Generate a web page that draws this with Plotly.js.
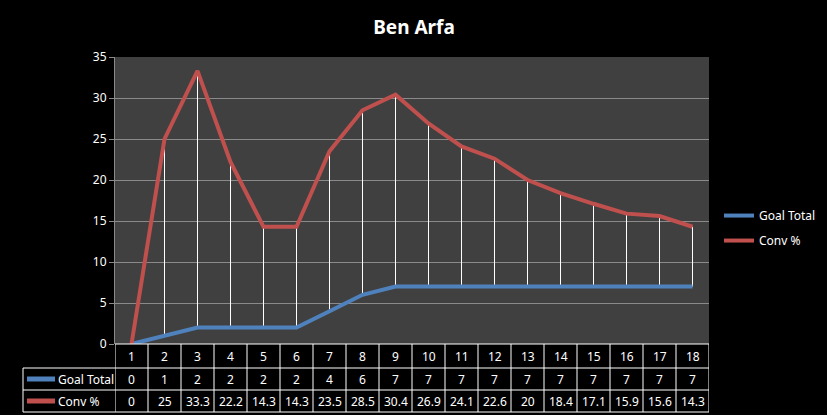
<!DOCTYPE html>
<html>
<head>
<meta charset="utf-8">
<script src="https://cdn.plot.ly/plotly-3.0.1.min.js"></script>
<style>html,body{margin:0;padding:0;background:#000;}#chart{width:827px;height:415px;}</style>
</head>
<body>
<div id="chart"></div>
<script>
const categories = [1,2,3,4,5,6,7,8,9,10,11,12,13,14,15,16,17,18];
const goalTotal = [0,1,2,2,2,2,4,6,7,7,7,7,7,7,7,7,7,7];
const convPct = [0,25,33.3,22.2,14.3,14.3,23.5,28.5,30.4,26.9,24.1,22.6,20,18.4,17.1,15.9,15.6,14.3];
const seriesNames = ['Goal Total', 'Conv %'];
const seriesColors = ['#4F81BD', '#C0504D'];

const W = 827, H = 415;
const M = {l:115, r:118, t:57, b:71, autoexpand:false};
const plotW = W - M.l - M.r, plotH = H - M.t - M.b;
const py = px => -px / plotH;       // pixels below the axis -> paper y
const pxX = px => (px - M.l) / plotW; // absolute px -> paper x

// drop lines
const dx = [], dy = [];
categories.forEach((c,i) => { dx.push(c, c, null); dy.push(goalTotal[i], convPct[i], null); });

const traces = [
  {x: dx, y: dy, mode:'lines', line:{color:'#ffffff', width:1}, showlegend:false, hoverinfo:'skip'},
  {x: categories, y: goalTotal, name: seriesNames[0], legendgroup:'a', mode:'lines', line:{color:seriesColors[0], width:4}},
  {x: categories, y: convPct, name: seriesNames[1], legendgroup:'b', mode:'lines', line:{color:seriesColors[1], width:4}}
];

// data table
const rowTops = [0, 24, 46, 68]; // pixel offsets below the x axis
const shapes = [];
const annotations = [];
const lineStyle = {color:'#ffffff', width:1};
shapes.push({type:'line', xref:'paper', yref:'paper', x0:0, x1:1, y0:py(rowTops[0]), y1:py(rowTops[0]), line:lineStyle});
for (let r = 1; r < rowTops.length; r++) {
  shapes.push({type:'line', xref:'paper', yref:'paper', x0:pxX(23), x1:1, y0:py(rowTops[r]), y1:py(rowTops[r]), line:lineStyle});
}
for (let k = 0; k <= categories.length; k++) {
  shapes.push({type:'line', xref:'x', yref:'paper', x0:k+0.5, x1:k+0.5, y0:py(0), y1:py(rowTops[3]), line:lineStyle});
}
shapes.push({type:'line', xref:'paper', yref:'paper', x0:pxX(23), x1:pxX(23), y0:py(rowTops[1]), y1:py(rowTops[3]), line:lineStyle});

const tfont = {family:'Noto Sans, DejaVu Sans, sans-serif', size:12, color:'#ffffff'};
const rows = [categories, goalTotal, convPct];
rows.forEach((vals, r) => {
  const yc = py((rowTops[r] + rowTops[r+1]) / 2);
  vals.forEach((v, i) => {
    annotations.push({xref:'x', yref:'paper', x:categories[i], y:yc, text:String(v), showarrow:false, font:tfont, xanchor:'center', yanchor:'middle'});
  });
});
seriesNames.forEach((n, s) => {
  const yc = py((rowTops[s+1] + rowTops[s+2]) / 2);
  shapes.push({type:'line', xref:'paper', yref:'paper', x0:pxX(27), x1:pxX(55), y0:yc, y1:yc, line:{color:seriesColors[s], width:5}});
  annotations.push({xref:'paper', yref:'paper', x:pxX(56), y:yc, text:n, showarrow:false, font:tfont, xanchor:'left', yanchor:'middle'});
});

const layout = {
  width: W, height: H,
  margin: M,
  paper_bgcolor:'#000000',
  plot_bgcolor:'#404040',
  title:{text:'<b>Ben Arfa</b>', font:{family:'Noto Sans, DejaVu Sans, sans-serif', size:19, color:'#ffffff'}, x:414/W, xanchor:'center', y:1-27/H, yanchor:'middle', yref:'container'},
  xaxis:{range:[0.5, 18.5], showticklabels:false, showgrid:false, zeroline:false, showline:false, ticks:'', fixedrange:true},
  yaxis:{range:[0, 35], dtick:5, showgrid:true, gridcolor:'#8a8a8a', gridwidth:1, zeroline:false,
         showline:true, linecolor:'#8a8a8a', linewidth:1, ticks:'outside', ticklen:5, tickcolor:'#8a8a8a',
         tickfont:{family:'Noto Sans, DejaVu Sans, sans-serif', size:12, color:'#ffffff'}},
  legend:{x:pxX(719), xanchor:'left', y:0.404, yanchor:'middle', bgcolor:'rgba(0,0,0,0)',
          font:{family:'Noto Sans, DejaVu Sans, sans-serif', size:12, color:'#ffffff'}, tracegroupgap:6},
  shapes: shapes,
  annotations: annotations,
  showlegend:true
};

Plotly.newPlot('chart', traces, layout, {displayModeBar:false, staticPlot:true});
</script>
</body>
</html>
